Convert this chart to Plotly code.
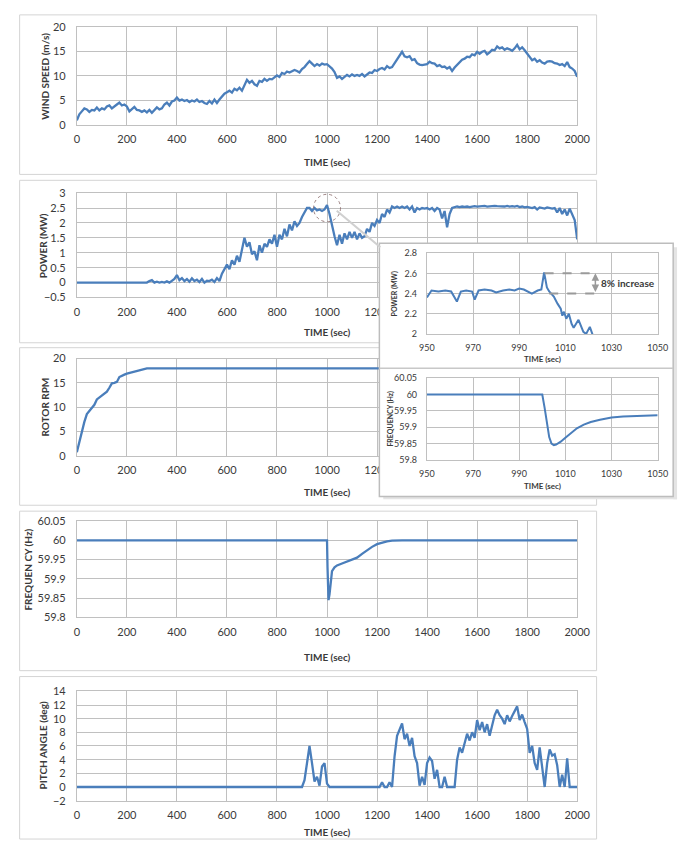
import plotly.graph_objects as go

# ---------------- data ----------------
T10 = list(range(0, 2001, 10))
TIME_TICKS = [0, 200, 400, 600, 800, 1000, 1200, 1400, 1600, 1800, 2000]
# the zoom box hides the right part of the power / rotor time labels
TIME_TICKS_PARTIAL = ["0", "200", "400", "600", "800", "1000", "1200", "", "", "", ""]

WIND = [
    1.0, 2.2, 2.8, 3.4, 3.2, 2.7, 3.1, 3.0, 3.6, 3.0,
    3.4, 3.2, 3.8, 4.0, 3.4, 3.9, 4.2, 4.6, 4.0, 4.2,
    3.8, 2.8, 3.3, 3.7, 3.1, 3.0, 2.7, 3.0, 2.6, 3.1,
    2.5, 3.0, 3.6, 3.2, 3.4, 4.2, 4.6, 4.0, 4.8, 5.0,
    5.6, 5.0, 5.2, 4.9, 5.1, 4.7, 5.0, 4.8, 5.2, 4.7,
    4.9, 4.5, 4.3, 4.9, 4.4, 5.2, 4.5, 5.2, 5.8, 6.4,
    6.7, 7.0, 6.6, 7.4, 7.1, 7.6, 7.0, 8.1, 9.2, 8.6,
    9.0, 8.3, 8.0, 9.0, 8.8, 9.4, 9.0, 9.4, 9.3, 9.7,
    10.1, 9.8, 10.6, 10.4, 10.9, 10.7, 11.0, 11.2, 11.0, 10.7,
    11.4, 11.8, 12.4, 13.0, 12.5, 12.0, 12.4, 12.1, 12.5, 12.3,
    12.4, 12.0, 11.5, 10.8, 9.6, 9.9, 9.4, 9.8, 10.2, 9.9,
    10.3, 10.0, 10.2, 10.0, 10.4, 9.9, 10.3, 10.7, 10.6, 11.2,
    11.0, 11.4, 11.6, 11.3, 12.0, 11.6, 11.8, 12.6, 13.5, 14.2,
    14.9, 14.0, 13.8, 14.0, 13.2, 13.4, 12.6, 12.3, 12.2, 12.3,
    12.4, 12.9, 12.6, 12.5, 12.0, 12.2, 11.8, 11.9, 11.5, 11.8,
    11.0, 11.7, 12.3, 12.9, 13.3, 13.5, 13.9, 13.8, 14.4, 14.2,
    14.9, 14.5, 14.9, 15.1, 14.4, 14.8, 15.3, 15.2, 16.0, 15.6,
    15.8, 15.3, 15.6, 15.4, 15.1, 15.6, 16.3, 15.4, 15.8, 15.2,
    14.6, 13.8, 13.2, 13.5, 12.9, 13.2, 12.7, 12.5, 12.9, 13.0,
    12.9, 12.6, 12.5, 12.2, 12.4, 12.0, 12.8, 11.8, 11.5, 11.0,
    9.8,
]

POWER = [
    0, 0, 0, 0, 0, 0, 0, 0, 0, 0,
    0, 0, 0, 0, 0, 0, 0, 0, 0, 0,
    0, 0, 0, 0, 0, 0, 0, 0, 0, 0.05,
    0.08, 0.0, 0.03, 0.0, 0.02, 0.0, 0.04, 0.0, 0.05, 0.12,
    0.25, 0.08, 0.15, 0.05, 0.12, 0.03, 0.14, 0.05, 0.10, 0.02,
    0.12, 0.0, 0.06, 0.05, 0.10, 0.02, 0.15, 0.05, 0.30, 0.45,
    0.60, 0.45, 0.75, 0.60, 0.90, 0.70, 1.10, 1.50, 1.20, 1.35,
    0.95, 1.05, 0.75, 1.25, 1.00, 1.30, 1.20, 1.45, 1.30, 1.60,
    1.20, 1.60, 1.45, 1.80, 1.55, 1.95, 1.75, 2.05, 1.90, 2.00,
    2.20, 2.35, 2.50, 2.50, 2.40, 2.50, 2.42, 2.45, 2.40, 2.45,
    2.60, 2.30, 1.90, 1.55, 1.25, 1.60, 1.30, 1.65, 1.45, 1.70,
    1.50, 1.70, 1.45, 1.65, 1.50, 1.55, 1.80, 1.70, 2.00, 1.90,
    2.10, 2.00, 2.30, 2.20, 2.45, 2.35, 2.55, 2.50, 2.55, 2.50,
    2.55, 2.50, 2.55, 2.45, 2.55, 2.35, 2.50, 2.45, 2.50, 2.48,
    2.50, 2.45, 2.50, 2.40, 2.50, 2.45, 2.15, 2.40, 1.85, 2.30,
    2.50, 2.52, 2.55, 2.53, 2.55, 2.54, 2.55, 2.53, 2.55, 2.56,
    2.55, 2.56, 2.55, 2.57, 2.55, 2.56, 2.55, 2.57, 2.56, 2.55,
    2.56, 2.55, 2.57, 2.55, 2.56, 2.55, 2.57, 2.53, 2.55, 2.52,
    2.54, 2.52, 2.50, 2.53, 2.45, 2.52, 2.50, 2.48, 2.52, 2.50,
    2.48, 2.50, 2.35, 2.50, 2.30, 2.45, 2.25, 2.48, 2.30, 2.10,
    1.45,
]

PITCH = [
    0, 0, 0, 0, 0, 0, 0, 0, 0, 0,
    0, 0, 0, 0, 0, 0, 0, 0, 0, 0,
    0, 0, 0, 0, 0, 0, 0, 0, 0, 0,
    0, 0, 0, 0, 0, 0, 0, 0, 0, 0,
    0, 0, 0, 0, 0, 0, 0, 0, 0, 0,
    0, 0, 0, 0, 0, 0, 0, 0, 0, 0,
    0, 0, 0, 0, 0, 0, 0, 0, 0, 0,
    0, 0, 0, 0, 0, 0, 0, 0, 0, 0,
    0, 0, 0, 0, 0, 0, 0, 0, 0, 0,
    0, 1.0, 3.5, 6.0, 3.5, 0.8, 1.5, 0.2, 3.0, 3.5,
    0.5, 0, 0, 0, 0, 0, 0, 0, 0, 0,
    0, 0, 0, 0, 0, 0, 0, 0, 0, 0,
    0, 0, 0.7, 0, 0, 0.7, 0, 4.5, 7.5, 8.5,
    9.3, 7.0, 7.8, 6.0, 7.2, 4.5, 3.5, 0.2, 1.5, 0.3,
    3.5, 4.3, 3.8, 1.2, 2.5, 0, 0, 1.5, 0, 0,
    0, 0, 4.0, 5.8, 5.0, 6.5, 7.8, 6.8, 8.0, 7.2,
    9.8, 8.3, 9.5, 8.0, 9.2, 7.5, 9.0, 10.5, 11.3, 10.5,
    10.0, 9.2, 10.5, 9.6, 10.4, 11.0, 11.8, 9.8, 10.6, 9.5,
    8.5, 5.0, 6.0, 3.5, 2.5, 5.8, 3.0, 0, 3.5, 5.5,
    4.6, 4.8, 3.2, 0, 1.8, 0, 4.2, 0, 0, 0,
    0,
]

RPM_T = [0, 10, 20, 30, 40, 50, 60, 70, 80, 90, 100, 110, 120, 130, 140, 150,
         160, 170, 180, 190, 200, 220, 240, 260, 280, 300, 600, 1000, 1050, 1400, 2000]
RPM = [0.8, 3.0, 5.0, 7.0, 8.6, 9.3, 9.8, 10.5, 11.6, 12.0, 12.3, 12.8, 13.2, 14.0, 14.9, 15.0,
       15.2, 16.2, 16.5, 16.7, 16.9, 17.2, 17.5, 17.8, 18.0, 18.0, 18.0, 18.1, 18.0, 18.0, 18.0]

FREQ_T = [0, 1000, 1002, 1004, 1006, 1010, 1015, 1020, 1030, 1040, 1060, 1080, 1100, 1120,
          1140, 1160, 1180, 1200, 1220, 1240, 1260, 1280, 1300, 1350, 1400, 2000]
FREQ = [60, 60, 59.93, 59.87, 59.845, 59.86, 59.9, 59.92, 59.93, 59.935, 59.94, 59.945, 59.95, 59.955,
        59.965, 59.975, 59.983, 59.99, 59.994, 59.997, 59.999, 60, 60, 60, 60, 60]

# zoomed window 950-1050 s
ZP_T = [950, 952, 955, 958, 960.5, 963, 964.7, 967, 969.6, 970.7, 972.4, 975, 978, 980, 983,
        985.7, 988, 990, 992, 994, 995.5, 998, 999.6, 1000.8, 1002, 1003, 1005, 1006.6, 1008,
        1008.7, 1009.4, 1010.4, 1011.5, 1012.7, 1013.6, 1015.7, 1017, 1017.8, 1019, 1020.6,
        1022, 1024]
ZP = [2.36, 2.43, 2.42, 2.43, 2.42, 2.32, 2.42, 2.43, 2.42, 2.34, 2.43, 2.44, 2.43, 2.41, 2.43,
      2.44, 2.43, 2.45, 2.44, 2.42, 2.40, 2.43, 2.44, 2.61, 2.46, 2.42, 2.37, 2.30, 2.25,
      2.18, 2.22, 2.15, 2.20, 2.10, 2.06, 2.14, 2.06, 2.02, 2.00, 2.07,
      1.98, 1.95]

ZF_T = [950, 1000, 1001, 1002, 1003, 1004, 1005, 1006, 1008, 1010, 1012, 1015, 1018, 1021,
        1025, 1030, 1035, 1040, 1050]
ZF = [60, 60, 59.96, 59.91, 59.87, 59.85, 59.845, 59.847, 59.856, 59.868, 59.88, 59.897, 59.908,
      59.916, 59.923, 59.93, 59.933, 59.935, 59.937]

INCREASE_LOW, INCREASE_HIGH = 2.4, 2.6

# ---------------- layout helpers ----------------
W, H = 692, 848
LINE = "#4a7ebb"
GRID = "#c0c0c0"
FRAME = "#d4d4d4"
TXT = "#3a3a3a"
FONT = "Lato, Liberation Sans, Arial, sans-serif"
CLEAR = "rgba(0,0,0,0)"


def xd(a, b):
    return [a / W, b / W]


def yd(top, bottom):
    return [1 - bottom / H, 1 - top / H]


def px(x):
    return x / W


def py(y):
    return 1 - y / H


fig = go.Figure()

series = [
    (T10, WIND, "x", "y"),
    (T10, POWER, "x2", "y2"),
    (RPM_T, RPM, "x3", "y3"),
    (FREQ_T, FREQ, "x4", "y4"),
    (T10, PITCH, "x5", "y5"),
]
for xs, ys, xa, ya in series:
    fig.add_trace(go.Scatter(x=xs, y=ys, xaxis=xa, yaxis=ya, mode="lines",
                             line=dict(color=LINE, width=2.3), hoverinfo="skip",
                             showlegend=False))

# white backing for the zoom box (its subplot background covers the main panels)
fig.add_trace(go.Scatter(x=[0], y=[0], xaxis="x6", yaxis="y6", mode="markers",
                         marker=dict(size=1, color=CLEAR), showlegend=False,
                         hoverinfo="skip"))
fig.add_trace(go.Scatter(x=ZP_T, y=ZP, xaxis="x7", yaxis="y7", mode="lines",
                         line=dict(color=LINE, width=2), showlegend=False, hoverinfo="skip"))
fig.add_trace(go.Scatter(x=ZF_T, y=ZF, xaxis="x8", yaxis="y8", mode="lines",
                         line=dict(color=LINE, width=2), showlegend=False, hoverinfo="skip"))

base = dict(showgrid=True, gridcolor=GRID, gridwidth=1, zeroline=False,
            showline=True, linecolor=GRID, linewidth=1, mirror=True,
            ticks="outside", tickcolor=CLEAR)
common_x = dict(base, ticklen=4, tickfont=dict(size=11, color=TXT, family=FONT))
common_y = dict(base, ticklen=8, tickfont=dict(size=11, color=TXT, family=FONT))

panel_rows = [  # (plot top, plot bottom, y range, dtick)
    (20, 120, [0, 20], 5),
    (189, 295, [-0.5, 3], 0.5),
    (357, 456, [0, 20], 5),
    (522, 620, [59.8, 60.05], 0.05),
    (695, 806, [-2, 14], 2),
]
layout = {}
for i, (top, bot, yr, dt) in enumerate(panel_rows, start=1):
    sx = "" if i == 1 else str(i)
    texts = TIME_TICKS_PARTIAL if i in (2, 3) else [str(t) for t in TIME_TICKS]
    layout["xaxis" + sx] = dict(common_x, domain=xd(71, 587), range=[0, 2000],
                                tickmode="array", tickvals=TIME_TICKS, ticktext=texts,
                                anchor="y" + sx)
    layout["yaxis" + sx] = dict(common_y, domain=yd(top, bot), range=yr, dtick=dt,
                                tick0=yr[0], anchor="x" + sx)

hidden = dict(showgrid=False, zeroline=False, showline=False, showticklabels=False, ticks="")
layout["xaxis6"] = dict(hidden, domain=xd(383, 686), range=[0, 1], anchor="y6")
layout["yaxis6"] = dict(hidden, domain=yd(240, 497), range=[0, 1], anchor="x6")

small_x = dict(base, ticklen=5, tickfont=dict(size=9, color=TXT, family=FONT))
small_y = dict(base, ticklen=7, tickfont=dict(size=9, color=TXT, family=FONT))
layout["xaxis7"] = dict(small_x, domain=xd(432, 670), range=[950, 1050], dtick=20, tick0=950,
                        anchor="y7")
layout["yaxis7"] = dict(small_y, domain=yd(250, 332), range=[2, 2.8], dtick=0.2, tick0=2,
                        anchor="x7")
layout["xaxis8"] = dict(small_x, domain=xd(432, 670), range=[950, 1050], dtick=20, tick0=950,
                        anchor="y8")
layout["yaxis8"] = dict(small_y, domain=yd(377, 460), range=[59.8, 60.05], dtick=0.05,
                        tick0=59.8, anchor="x8")

shapes = []
# panel frames
for top, bot in [(8, 170), (176, 341), (346, 506), (512, 674), (680, 845)]:
    shapes.append(dict(type="rect", xref="paper", yref="paper", x0=px(12), x1=px(607),
                       y0=py(bot), y1=py(top), line=dict(color=FRAME, width=1),
                       fillcolor=CLEAR, layer="below"))
# zoom box: soft shadow strips, frame and divider
shapes.append(dict(type="rect", xref="paper", yref="paper", x0=px(686), x1=px(690),
                   y0=py(500), y1=py(244), line=dict(width=0), fillcolor="#e4e4e4",
                   layer="above"))
shapes.append(dict(type="rect", xref="paper", yref="paper", x0=px(387), x1=px(690),
                   y0=py(500), y1=py(497), line=dict(width=0), fillcolor="#e4e4e4",
                   layer="above"))
shapes.append(dict(type="rect", xref="paper", yref="paper", x0=px(383), x1=px(686),
                   y0=py(497), y1=py(240), line=dict(color="#bdbdbd", width=1.5),
                   fillcolor=CLEAR, layer="above"))
shapes.append(dict(type="line", xref="paper", yref="paper", x0=px(383), x1=px(686),
                   y0=py(367), y1=py(367), line=dict(color="#c8c8c8", width=1.5),
                   layer="above"))
# callout circle on the power panel and connector to the zoom box
shapes.append(dict(type="circle", xref="x2", yref="y2", x0=946, x1=1054, y0=2.04, y1=2.96,
                   line=dict(color="#9a7f7f", width=1, dash="dot"), layer="above"))
shapes.append(dict(type="path", xref="paper", yref="paper",
                   path="M {},{} L {},{} L {},{} L {},{} Z".format(
                       px(339), py(207), px(344), py(211), px(384), py(244), px(379), py(240)),
                   line=dict(color="#d0d0d0", width=2), fillcolor="#d6d6d6", layer="above"))
# dashed guides for the overshoot
shapes.append(dict(type="line", xref="x7", yref="y7", x0=1001, x1=1023, y0=INCREASE_HIGH,
                   y1=INCREASE_HIGH, line=dict(color="#9a9a9a", width=2, dash="dash"),
                   layer="above"))
shapes.append(dict(type="line", xref="x7", yref="y7", x0=1003, x1=1023, y0=INCREASE_LOW,
                   y1=INCREASE_LOW, line=dict(color="#9a9a9a", width=2, dash="dash"),
                   layer="above"))


def label(text, x, y, size=10, angle=0):
    return dict(text="<b>" + text + "</b>", x=px(x), y=py(y), xref="paper", yref="paper",
                xanchor="center", yanchor="middle", showarrow=False, textangle=angle,
                font=dict(family=FONT, size=size, color=TXT))


annotations = []
for yc in [157, 330, 493, 660, 838]:
    annotations.append(label("TIME (sec)", 329, yc))
for text, xc, yc in [("WIND SPEED (m/s)", 38, 70), ("POWER (MW)", 36, 242),
                     ("ROTOR RPM", 38, 406), ("FREQUEN CY (Hz)", 21, 571),
                     ("PITCH ANGLE (deg)", 36, 750)]:
    annotations.append(label(text, xc, yc, angle=-90))

annotations += [
    label("TIME (sec)", 551, 357, size=8),
    label("TIME (sec)", 551, 486, size=8),
    label("POWER (MW)", 399, 291, size=7, angle=-90),
    label("FREQUENCY (Hz)", 395, 418, size=7, angle=-90),
    dict(text="<b>8% increase</b>", x=1024.5, y=(INCREASE_LOW + INCREASE_HIGH) / 2,
         xref="x7", yref="y7", xanchor="left", yanchor="middle", showarrow=False,
         font=dict(family=FONT, size=10, color=TXT)),
    dict(text="", x=1023, y=INCREASE_HIGH, ax=1023, ay=INCREASE_LOW, xref="x7", yref="y7",
         axref="x7", ayref="y7", showarrow=True, arrowhead=2, arrowside="end+start",
         arrowsize=1, arrowwidth=1.5, arrowcolor="#9a9a9a"),
]

fig.update_layout(
    width=W, height=H, margin=dict(l=0, r=0, t=0, b=0),
    paper_bgcolor="white", plot_bgcolor="white",
    font=dict(family=FONT, color=TXT),
    shapes=shapes, annotations=annotations, showlegend=False,
    **layout,
)

fig.write_html("out.html")
